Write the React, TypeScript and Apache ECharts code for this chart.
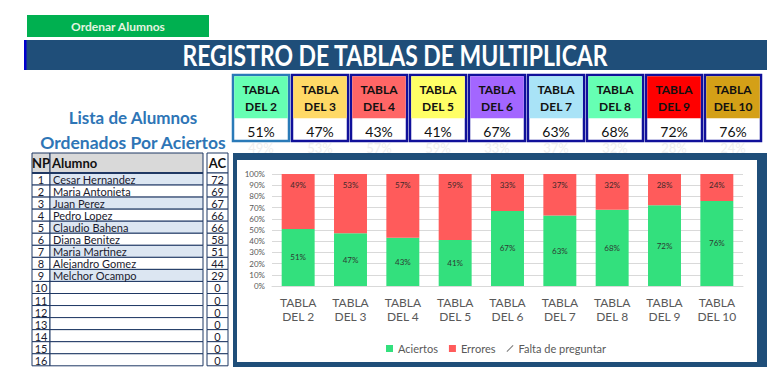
import React, { useEffect, useRef } from "react";
import * as echarts from "echarts";

const categories = ["TABLA\nDEL 2", "TABLA\nDEL 3", "TABLA\nDEL 4", "TABLA\nDEL 5", "TABLA\nDEL 6", "TABLA\nDEL 7", "TABLA\nDEL 8", "TABLA\nDEL 9", "TABLA\nDEL 10"];
const aciertos = [51, 47, 43, 41, 67, 63, 68, 72, 76];
const errores = [49, 53, 57, 59, 33, 37, 32, 28, 24];
const faltaDePreguntar = [0, 0, 0, 0, 0, 0, 0, 0, 0];
const yTicks = [0, 10, 20, 30, 40, 50, 60, 70, 80, 90, 100];
const alumnos = ["Cesar Hernandez", "Maria Antonieta", "Juan Perez", "Pedro Lopez", "Claudio Bahena", "Diana Benitez", "Maria Martinez", "Alejandro Gomez", "Melchor Ocampo", "", "", "", "", "", "", ""];
const aciertosAlumno = [72, 69, 67, 66, 66, 58, 51, 44, 29, 0, 0, 0, 0, 0, 0, 0];

const boxHeaderColors = ["#66ffb3", "#ffd966", "#ff6666", "#ffff66", "#a366ff", "#a9e3f7", "#66ffb3", "#ff0000", "#d4a017"];
const FONT = "Lato, 'Open Sans', sans-serif";

function buildGraphic() {
  const g: any[] = [];
  const rect = (x: number, y: number, w: number, h: number, fill: string, stroke?: string, lw?: number, z = -10) => ({
    type: "rect", z, silent: true,
    shape: { x, y, width: w, height: h },
    style: { fill, stroke: stroke || null, lineWidth: lw || 0 },
  });
  const text = (x: number, y: number, t: string, font: string, fill: string, align = "center", scaleX = 1) => ({
    type: "text", z: 10, silent: true, x, y, scaleX,
    style: { text: t, font, fill, textAlign: align, textVerticalAlign: "middle", align, verticalAlign: "middle" },
  });

  // button
  g.push(rect(27, 15, 182, 22, "#00b050"));
  g.push(text(118, 26, "Ordenar Alumnos", `bold 12px ${FONT}`, "#e6f4e0"));
  // title bar
  g.push(rect(24, 40, 743, 30, "#1f4e79"));
  g.push(rect(24, 40, 2.5, 30, "#0000cc"));
  g.push(text(395, 55, "REGISTRO DE TABLAS DE MULTIPLICAR", `bold 28px ${FONT}`, "#ffffff", "center", 0.82));

  // boxes
  categories.forEach((c, i) => {
    const x = 233 + i * 59;
    const w = 56;
    g.push(rect(x, 75, w, 66, "#ffffff", i === 0 ? "#2a7ab8" : "#10109a", 2.5));
    g.push(rect(x + 1.25, 76.25, w - 2.5, 42, boxHeaderColors[i]));
    const lines = c.split("\n");
    g.push(text(x + w / 2, 89, lines[0], `bold 12px ${FONT}`, "#111111"));
    g.push(text(x + w / 2, 106, lines[1], `bold 12px ${FONT}`, "#111111"));
    g.push(text(x + w / 2, 131, aciertos[i] + "%", `14px ${FONT}`, "#111111"));
    g.push(text(x + w / 2, 148, errores[i] + "%", `13px ${FONT}`, "#eeeeee"));
  });

  // list title
  g.push(text(133, 117, "Lista de Alumnos", `bold 17px ${FONT}`, "#2e75b6"));
  g.push(text(133, 142, "Ordenados Por Aciertos", `bold 17.5px ${FONT}`, "#2e75b6"));

  // table
  const border = "#1f3864";
  g.push(rect(32, 153, 18, 20, "#d9d9d9", border, 1));
  g.push(rect(50, 153, 153, 20, "#d9d9d9", border, 1));
  g.push(rect(207, 153, 21, 20, "#ffffff", border, 1));
  g.push(text(41, 163, "NP", `bold 13px ${FONT}`, "#111111"));
  g.push(text(52, 163, "Alumno", `bold 13px ${FONT}`, "#111111", "left"));
  g.push(text(217.5, 163, "AC", `bold 13px ${FONT}`, "#111111"));
  const rowH = 12.05;
  alumnos.forEach((name, i) => {
    const y = 173 + i * rowH;
    g.push(rect(32, y, 18, rowH, "#ffffff", border, 1));
    g.push(rect(50, y, 153, rowH, i % 2 === 0 && name ? "#dce6f2" : "#ffffff", border, 1));
    g.push(rect(207, y, 21, rowH, "#ffffff", border, 1));
    g.push(text(41, y + rowH / 2 + 0.5, String(i + 1), `11px ${FONT}`, "#1a1a2e"));
    if (name) g.push(text(53, y + rowH / 2 + 0.5, name, `11px ${FONT}`, "#1a1a2e", "left"));
    g.push(text(217.5, y + rowH / 2 + 0.5, String(aciertosAlumno[i]), `11px ${FONT}`, "#1a1a2e"));
  });
  g.push(rect(32, 172, 171, 2, border, undefined, 0, -9));

  // chart panel
  g.push(rect(233, 153, 534, 214, "#1f4e79"));
  g.push(rect(237, 160, 520, 202, "#ffffff", undefined, 0, -9));
  return g;
}

export default function App() {
  const ref = useRef<HTMLDivElement>(null);
  useEffect(() => {
    if (!ref.current) return;
    const chart = echarts.init(ref.current, null, { renderer: "svg" });
    chart.setOption({
      animation: false,
      textStyle: { fontFamily: FONT },
      graphic: buildGraphic(),
      grid: { left: 272, right: 24, top: 174, bottom: 81 },
      legend: {
        left: 386, top: 343, itemWidth: 7, itemHeight: 7, itemGap: 11, padding: 0,
        textStyle: { fontSize: 11, color: "#595959", fontFamily: FONT },
        data: [
          { name: "Aciertos", icon: "rect" },
          { name: "Errores", icon: "rect" },
          { name: "Falta de preguntar", icon: "path://M0,9 L8,1 L9,2 L1,10 Z", itemStyle: { color: "#7f7f7f" } },
        ],
      },
      xAxis: {
        type: "category", data: categories,
        axisLine: { lineStyle: { color: "#d9d9d9" } },
        axisTick: { show: false },
        axisLabel: { fontSize: 12, color: "#595959", lineHeight: 14, margin: 9, interval: 0 },
      },
      yAxis: {
        type: "value", min: yTicks[0], max: yTicks[yTicks.length - 1], interval: 10,
        axisLabel: { formatter: "{value}%", fontSize: 8, color: "#595959", margin: 7 },
        axisLine: { show: false }, axisTick: { show: false },
        splitLine: { lineStyle: { color: "#d9d9d9" } },
      },
      series: [
        {
          name: "Aciertos", type: "bar", stack: "t", data: aciertos, barWidth: "63%",
          itemStyle: { color: "#33e07d" },
          label: { show: true, position: "inside", formatter: "{c}%", fontSize: 8, color: "#2d3b33" },
        },
        {
          name: "Errores", type: "bar", stack: "t", data: errores,
          itemStyle: { color: "#ff5b5b" },
          label: { show: true, position: "insideTop", distance: 7, formatter: "{c}%", fontSize: 8, color: "#3d2a2a" },
        },
        {
          name: "Falta de preguntar", type: "bar", stack: "t", data: faltaDePreguntar,
          itemStyle: { color: "#7f7f7f" },
          label: { show: false },
        },
      ],
    });
    return () => chart.dispose();
  }, []);
  return <div ref={ref} style={{ position: "absolute", left: 0, top: 0, width: 767, height: 367 }} />;
}
